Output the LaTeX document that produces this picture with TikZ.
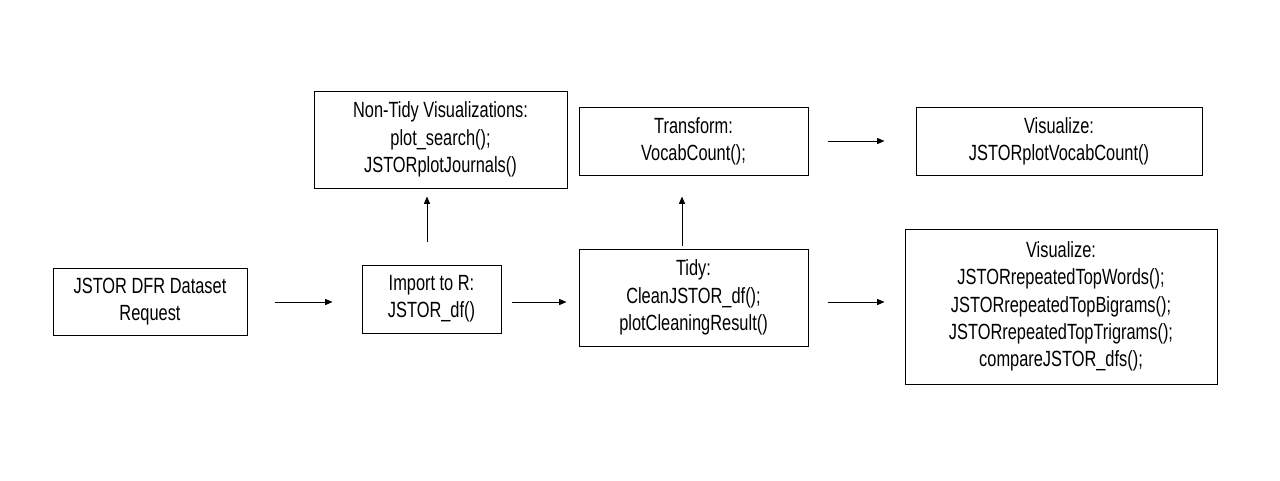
\documentclass[tikz,border=0pt]{standalone}
\usepackage{fontspec}
\setmainfont{Liberation Sans}[FakeStretch=0.745]
\usetikzlibrary{arrows.meta}
\begin{document}
\begin{tikzpicture}[x=0.75pt,y=-0.75pt,
  box/.style={draw,line width=0.75pt,inner sep=0pt,align=center,
    font=\fontsize{16.5}{20.5}\selectfont},
  arr/.style={line width=0.75pt,-{Triangle[length=5.5pt,width=4.5pt]}}]
\useasboundingbox (0,0) rectangle (1280,480);
\node[box,minimum width=194*0.75pt,minimum height=67*0.75pt] (b1) at (150,301.5) {JSTOR DFR Dataset\\Request};
\node[box,minimum width=139*0.75pt,minimum height=68*0.75pt] (b2) at (431.5,299) {Import to R:\\JSTOR\_df()};
\node[box,minimum width=253*0.75pt,minimum height=97*0.75pt] (b3) at (440.5,139.5) {Non-Tidy Visualizations:\\plot\_search();\\JSTORplotJournals()};
\node[box,minimum width=229*0.75pt,minimum height=97*0.75pt] (b4) at (693.5,297.5) {Tidy:\\CleanJSTOR\_df();\\plotCleaningResult()};
\node[box,minimum width=229*0.75pt,minimum height=68*0.75pt] (b5) at (693.5,141) {Transform:\\VocabCount();};
\node[box,minimum width=286*0.75pt,minimum height=68*0.75pt] (b6) at (1059,141) {Visualize:\\JSTORplotVocabCount()};
\node[box,minimum width=312*0.75pt,minimum height=155*0.75pt] (b7) at (1061,306.5) {Visualize:\\JSTORrepeatedTopWords();\\JSTORrepeatedTopBigrams();\\JSTORrepeatedTopTrigrams();\\compareJSTOR\_dfs();};
\draw[arr,shorten <=27*0.75pt,shorten >=29*0.75pt] ([yshift=-0.5*0.75pt]b1.east) -- ([yshift=-0.5*0.75pt]b1.east -| b2.west);
\draw[arr,shorten <=10*0.75pt,shorten >=12*0.75pt] ([yshift=-3*0.75pt]b2.east) -- ([yshift=-3*0.75pt]b2.east -| b4.west);
\draw[arr,shorten <=23*0.75pt,shorten >=8*0.75pt] ([xshift=-4.5*0.75pt]b2.north) -- ([xshift=-4.5*0.75pt]b2.north |- b3.south);
\draw[arr,shorten <=3*0.75pt,shorten >=21*0.75pt] ([xshift=-11.5*0.75pt]b4.north) -- ([xshift=-11.5*0.75pt]b4.north |- b5.south);
\draw[arr,shorten <=19*0.75pt,shorten >=31*0.75pt] (b5.east) -- (b5.east -| b6.west);
\draw[arr,shorten <=19*0.75pt,shorten >=20*0.75pt] ([yshift=-4.5*0.75pt]b4.east) -- ([yshift=-4.5*0.75pt]b4.east -| b7.west);
\end{tikzpicture}
\end{document}
